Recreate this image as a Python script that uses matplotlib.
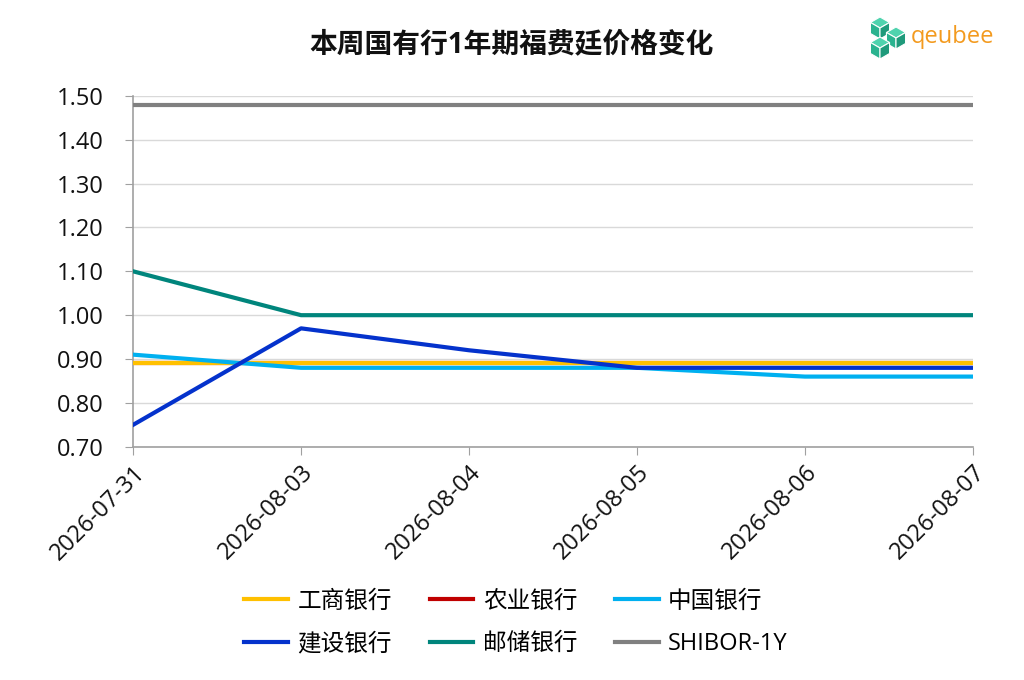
import matplotlib
matplotlib.use('Agg')
import matplotlib.pyplot as plt
from matplotlib.patches import Polygon

plt.rcParams['font.family'] = ['Open Sans', 'Noto Sans CJK SC', 'DejaVu Sans']

dates = ['2026-07-31', '2026-08-03', '2026-08-04', '2026-08-05', '2026-08-06', '2026-08-07']
icbc = [0.89, 0.89, 0.89, 0.89, 0.89, 0.89]
abc = [0.89, 0.89, 0.89, 0.89, 0.89, 0.89]
boc = [0.91, 0.88, 0.88, 0.88, 0.86, 0.86]
ccb = [0.75, 0.97, 0.92, 0.88, 0.88, 0.88]
psbc = [1.10, 1.00, 1.00, 1.00, 1.00, 1.00]
shibor = [1.48, 1.48, 1.48, 1.48, 1.48, 1.48]

series = [
    ('工商银行', icbc, '#FFC000', 3),
    ('农业银行', abc, '#C00000', 2),
    ('中国银行', boc, '#00B0F0', 4),
    ('建设银行', ccb, '#0432CC', 5),
    ('邮储银行', psbc, '#00857C', 6),
    ('SHIBOR-1Y', shibor, '#808080', 7),
]

fig = plt.figure(figsize=(10.24, 6.8), dpi=100)
ax = fig.add_axes([0.130, 0.343, 0.820, 0.516])

x = list(range(len(dates)))
lines = {}
for name, vals, color, z in series:
    lines[name] = ax.plot(x, vals, color=color, lw=3, label=name, zorder=z)[0]

ax.set_xlim(0, len(dates) - 1)
ax.set_ylim(0.70, 1.50)
yt = [0.70 + 0.1 * i for i in range(9)]
ax.set_yticks(yt)
ax.set_yticklabels(['%.2f' % v for v in yt])
ax.set_xticks(x)
ax.set_xticklabels(dates, rotation=45, ha='right', rotation_mode='anchor')
ax.tick_params(axis='y', length=6, labelsize=17, pad=15)
ax.tick_params(axis='x', length=6, labelsize=17, pad=4)
ax.tick_params(axis='both', color='#a0a0a0', labelcolor='#111111')
ax.grid(axis='y', color='#d9d9d9', lw=1)
ax.set_axisbelow(True)
for s in ['top', 'right']:
    ax.spines[s].set_visible(False)
for s in ['left', 'bottom']:
    ax.spines[s].set_color('#a0a0a0')
    ax.spines[s].set_linewidth(1.2)

fig.text(0.5, 0.934, '本周国有行1年期福费廷价格变化', ha='center', va='center',
         fontsize=20, fontweight='bold', color='#111111')

# legend filled row by row: 3 per row
order = ['工商银行', '建设银行', '农业银行', '邮储银行', '中国银行', 'SHIBOR-1Y']
fig.legend([lines[n] for n in order], order, loc='center', bbox_to_anchor=(0.504, 0.084),
           ncol=3, frameon=False, fontsize=17, handlelength=1.85, columnspacing=1.6,
           handletextpad=0.4, labelspacing=0.8)

# logo
def rh(pts):
    return [(px / 1024, 1 - py / 680) for px, py in pts]

def cube(cx, cy, s):
    h = s * 0.87
    top = [(cx, cy - s), (cx + h, cy - s / 2), (cx, cy), (cx - h, cy - s / 2)]
    left = [(cx - h, cy - s / 2), (cx, cy), (cx, cy + s), (cx - h, cy + s / 2)]
    right = [(cx + h, cy - s / 2), (cx + h, cy + s / 2), (cx, cy + s), (cx, cy)]
    for pts, c in [(top, '#4fd3ae'), (left, '#2ab38f'), (right, '#1f9a7b')]:
        fig.patches.append(Polygon(rh(pts), closed=True, transform=fig.transFigure,
                                   facecolor=c, edgecolor='white', lw=0.8))

for cx, cy in [(880, 28), (896, 38), (880, 48)]:
    cube(cx, cy, 11)
fig.text(911 / 1024, 1 - 37 / 680, 'qeubee', ha='left', va='center', fontsize=17,
         color='#F39A1E', family=['Open Sans', 'DejaVu Sans'])

fig.savefig('out.png', dpi=100, facecolor='white')
